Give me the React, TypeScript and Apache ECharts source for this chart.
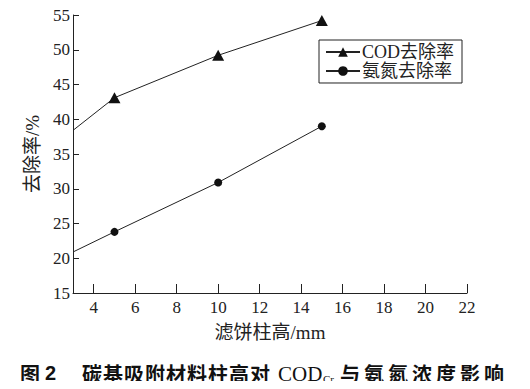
import React, { useEffect, useRef } from "react";
import * as echarts from "echarts";

const xTicks = [4, 6, 8, 10, 12, 14, 16, 18, 20, 22];
const codData: [number, number][] = [[3, 38.4], [5, 43.1], [10, 49.2], [15, 54.2]];
const nh3Data: [number, number][] = [[3, 20.9], [5, 23.8], [10, 30.9], [15, 39.0]];
const seriesNames = ["COD去除率", "氨氮去除率"];
const xName = "滤饼柱高/mm";
const yName = "去除率/%";
const captionParts = ["图", "2", "碳基吸附材料柱高对", "COD", "Cr", "与氨氮浓度影响"];

const SERIF = "'Liberation Serif', 'Noto Sans CJK SC', serif";
const SANS = "'Noto Sans CJK SC', sans-serif";

function spaced(str: string) {
  return Array.from(str).map((ch) => `{s|${ch}}`).join("");
}

export default function App() {
  const ref = useRef<HTMLDivElement>(null);
  useEffect(() => {
    const chart = echarts.init(ref.current!, null, { renderer: "svg" });
    const mk = (arr: [number, number][]) =>
      arr.map((p, i) => (i === 0 ? { value: p, symbol: "none" } : { value: p }));
    const capY = 373;
    const bold = { fontFamily: SANS, fontSize: 20, fontWeight: "bold", fill: "#111" };
    chart.setOption({
      animation: false,
      backgroundColor: "#fff",
      grid: { left: 73, top: 15, right: 63, bottom: 96 },
      legend: {
        orient: "vertical",
        left: 319,
        top: 40,
        width: 144,
        borderColor: "#222",
        borderWidth: 1,
        borderRadius: 0,
        padding: [3, 8, 3, 6],
        itemGap: 1,
        itemWidth: 34,
        itemHeight: 12,
        textStyle: { fontFamily: SERIF, fontSize: 18, color: "#222", padding: [0, 0, 0, -3] },
        data: seriesNames,
      },
      xAxis: {
        type: "value",
        min: 3,
        max: 22,
        name: xName,
        nameLocation: "middle",
        nameGap: 30,
        nameTextStyle: { fontFamily: SERIF, fontSize: 19, color: "#222" },
        axisLine: { lineStyle: { color: "#222", width: 1 } },
        axisTick: { inside: true, length: 9, customValues: xTicks, lineStyle: { color: "#222" } },
        axisLabel: { customValues: xTicks, fontFamily: SERIF, fontSize: 17, color: "#222", margin: 6 },
        splitLine: { show: false },
      },
      yAxis: {
        type: "value",
        min: 15,
        max: 55,
        interval: 5,
        name: yName,
        nameLocation: "middle",
        nameGap: 31,
        nameTextStyle: { fontFamily: SERIF, fontSize: 19, color: "#222" },
        axisLine: { show: true, lineStyle: { color: "#222", width: 1 } },
        axisTick: { show: true, inside: true, length: 6, lineStyle: { color: "#222" } },
        axisLabel: { fontFamily: SERIF, fontSize: 17, color: "#222", margin: 3 },
        splitLine: { show: false },
      },
      series: [
        {
          name: seriesNames[0],
          type: "line",
          data: mk(codData),
          symbol: "triangle",
          symbolSize: [12, 11],
          lineStyle: { color: "#222", width: 1 },
          itemStyle: { color: "#111" },
        },
        {
          name: seriesNames[1],
          type: "line",
          data: mk(nh3Data),
          symbol: "circle",
          symbolSize: 8,
          lineStyle: { color: "#222", width: 1 },
          itemStyle: { color: "#111" },
        },
      ],
      graphic: [
        { type: "text", x: 20, y: capY, style: { text: captionParts[0], ...bold, verticalAlign: "middle" } },
        { type: "text", x: 45, y: capY, style: { text: captionParts[1], ...bold, fontFamily: "'Liberation Sans', sans-serif", verticalAlign: "middle" } },
        {
          type: "text", x: 82, y: capY,
          style: { text: spaced(captionParts[2]), verticalAlign: "middle", rich: { s: { ...bold, padding: [0, 1, 0, 0] } } },
        },
        { type: "text", x: 278, y: capY + 1, style: { text: captionParts[3], fontFamily: SERIF, fontSize: 21, fill: "#111", verticalAlign: "middle" } },
        { type: "text", x: 323, y: capY + 6, style: { text: captionParts[4], fontFamily: SERIF, fontSize: 11, fill: "#111", verticalAlign: "middle" } },
        {
          type: "text", x: 340, y: capY,
          style: { text: spaced(captionParts[5]), verticalAlign: "middle", rich: { s: { ...bold, padding: [0, 4, 0, 0] } } },
        },
      ],
    });
    return () => chart.dispose();
  }, []);
  return <div ref={ref} style={{ width: 530, height: 389, margin: -8 }} />;
}
